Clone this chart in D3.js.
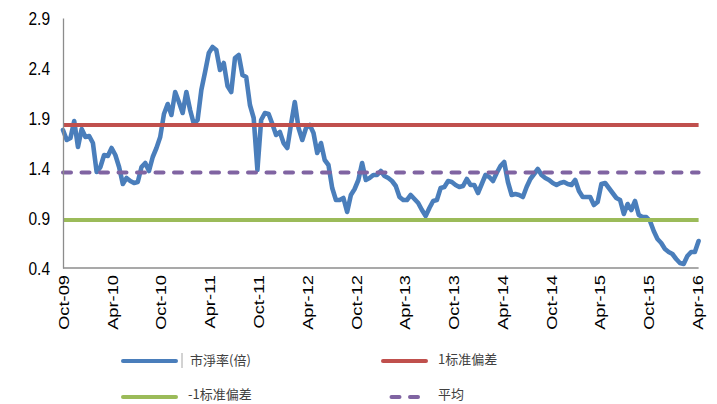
<!DOCTYPE html>
<html>
<head>
<meta charset="utf-8">
<script src="https://cdn.jsdelivr.net/npm/d3@7"></script>
<style>
  body { margin: 0; background: #fff; }
  svg { display: block; }
</style>
</head>
<body>
<svg id="chart" width="717" height="404"></svg>
<script>
// Price-to-book ratio, fortnightly readings starting 2009-10-01
const seriesStart = "2009-10-01";
const stepDays = 14;
const pbValues = [
  1.78, 1.68, 1.70, 1.87, 1.61, 1.79, 1.71, 1.72, 1.65, 1.36,
  1.41, 1.53, 1.52, 1.60, 1.53, 1.41, 1.24, 1.30, 1.27, 1.25,
  1.26, 1.41, 1.45, 1.37, 1.51, 1.60, 1.71, 1.94, 2.04, 1.93,
  2.16, 2.06, 1.95, 2.16, 1.98, 1.84, 1.88, 2.18, 2.36, 2.55,
  2.61, 2.58, 2.38, 2.45, 2.22, 2.16, 2.50, 2.53, 2.33, 2.31,
  2.03, 1.90, 1.38, 1.88, 1.95, 1.94, 1.84, 1.73, 1.76, 1.65,
  1.60, 1.84, 2.06, 1.80, 1.68, 1.80, 1.83, 1.75, 1.55, 1.65,
  1.48, 1.43, 1.20, 1.08, 1.08, 1.10, 0.96, 1.13, 1.19, 1.28,
  1.45, 1.28, 1.30, 1.33, 1.33, 1.37, 1.32, 1.30, 1.27, 1.22,
  1.11, 1.08, 1.08, 1.13, 1.09, 1.05, 0.98, 0.92, 1.00, 1.07,
  1.08, 1.20, 1.21, 1.27, 1.26, 1.23, 1.21, 1.22, 1.29, 1.23,
  1.23, 1.15, 1.24, 1.33, 1.31, 1.27, 1.35, 1.42, 1.46, 1.26,
  1.13, 1.14, 1.13, 1.11, 1.21, 1.29, 1.34, 1.39, 1.33, 1.30,
  1.28, 1.25, 1.23, 1.25, 1.26, 1.24, 1.23, 1.28, 1.17, 1.11,
  1.11, 1.11, 1.03, 1.06, 1.24, 1.25, 1.20, 1.15, 1.10, 1.08,
  0.94, 1.04, 0.98, 1.07, 0.93, 0.91, 0.91, 0.87, 0.77, 0.69,
  0.65, 0.59, 0.56, 0.54, 0.49, 0.45, 0.44, 0.52, 0.56, 0.56,
  0.67
];

// Reference levels
const plusOneSd = 1.83;
const meanLevel = 1.355;
const minusOneSd = 0.88;

const yTickValues = [0.4, 0.9, 1.4, 1.9, 2.4, 2.9];
const xTickLabels = ["Oct-09", "Apr-10", "Oct-10", "Apr-11", "Oct-11", "Apr-12",
  "Oct-12", "Apr-13", "Oct-13", "Apr-14", "Oct-14", "Apr-15", "Oct-15", "Apr-16"];

const seriesNames = ["市淨率(倍)", "1标准偏差", "-1标准偏差", "平均"];
const seriesColors = ["#4a7ebb", "#c0504d", "#9bbb59", "#8064a2"];

const svg = d3.select("#chart");
const parseDay = d3.timeParse("%Y-%m-%d");
const parseTick = d3.timeParse("%b-%y");

const start = parseDay(seriesStart);
const dates = pbValues.map((_, i) => d3.timeDay.offset(start, i * stepDays));
const rows = pbValues.map((v, i) => ({ date: dates[i], value: v }));

const x = d3.scaleTime()
  .domain([parseTick("Oct-09"), parseTick("Apr-16")])
  .range([63, 697]);
const y = d3.scaleLinear().domain([0.4, 2.9]).range([268, 18]);

const textStretch = 1.18;

// Main series
const line = d3.line().x(d => x(d.date)).y(d => y(d.value));
svg.append("path")
  .datum(rows)
  .attr("fill", "none")
  .attr("stroke", seriesColors[0])
  .attr("stroke-width", 4.6)
  .attr("stroke-linejoin", "round")
  .attr("stroke-linecap", "round")
  .attr("d", line);

// Horizontal reference lines across the full date span
const spanStart = dates[0], spanEnd = dates[dates.length - 1];
const refs = [
  { level: plusOneSd, color: seriesColors[1], dash: null },
  { level: minusOneSd, color: seriesColors[2], dash: null },
  { level: meanLevel, color: seriesColors[3], dash: "8,10.5" }
];
refs.forEach(r => {
  svg.append("line")
    .attr("x1", x(spanStart)).attr("x2", x(spanEnd))
    .attr("y1", y(r.level)).attr("y2", y(r.level))
    .attr("stroke", r.color)
    .attr("stroke-width", 4)
    .attr("stroke-linecap", r.dash ? "round" : "butt")
    .attr("stroke-dasharray", r.dash);
});

// Axes
const yAxis = d3.axisLeft(y).tickValues(yTickValues).tickSize(0).tickFormat(d3.format(".1f"));
const gy = svg.append("g").attr("transform", "translate(63,0)").call(yAxis);
gy.select(".domain").attr("stroke", "#8c8c8c").attr("stroke-width", 1.3);
gy.selectAll(".tick text").remove();
gy.selectAll(".tick").each(function(d) {
  d3.select(this).append("text")
    .attr("transform", `translate(-13,0) scale(1,${textStretch})`)
    .attr("text-anchor", "end")
    .attr("dy", "0.35em")
    .attr("fill", "#000")
    .style("font-family", "'Liberation Sans', Arial, sans-serif")
    .style("font-size", "15.5px")
    .text(d3.format(".1f")(d));
});

const xTickDates = xTickLabels.map(s => parseTick(s));
const xAxis = d3.axisBottom(x).tickValues(xTickDates).tickSize(0).tickFormat(d3.timeFormat("%b-%y"));
const gx = svg.append("g").attr("transform", "translate(0,268)").call(xAxis);
gx.select(".domain").attr("stroke", "#8c8c8c").attr("stroke-width", 1.3)
  .attr("d", `M63,0H${x(spanEnd)}`);
gx.selectAll(".tick text").remove();
gx.selectAll(".tick").each(function(d, i) {
  d3.select(this).append("text")
    .attr("transform", `translate(0,7) scale(1,${textStretch}) rotate(-90)`)
    .attr("text-anchor", "end")
    .attr("dy", "0.35em")
    .attr("fill", "#000")
    .style("font-family", "'Liberation Sans', Arial, sans-serif")
    .style("font-size", "15.5px")
    .text(xTickLabels[i]);
});

// Legend
const legendSlots = [
  { x: 123, y: 361, ty: 360, idx: 0, dash: null },
  { x: 383, y: 361, ty: 359, idx: 1, dash: null },
  { x: 123, y: 397, ty: 394, idx: 2, dash: null },
  { x: 383, y: 397, ty: 394, idx: 3, dash: "8,10.5" }
];
const lg = svg.append("g");
legendSlots.forEach(s => {
  const len = s.idx === 3 ? 36 : (s.idx === 1 ? 43 : 53);
  lg.append("line")
    .attr("x1", s.x + (s.dash ? 2 : 0)).attr("x2", s.x + len)
    .attr("y1", s.y).attr("y2", s.y)
    .attr("stroke", seriesColors[s.idx])
    .attr("stroke-width", 4)
    .attr("stroke-linecap", "round")
    .attr("stroke-dasharray", s.dash)
    .attr("stroke-dashoffset", s.dash ? 12 : null);
  const tx = s.idx === 0 ? 190 : (s.idx === 2 ? 188 : 438);
  lg.append("text")
    .attr("x", tx).attr("y", s.ty)
    .attr("dy", "0.35em")
    .attr("fill", "#404040")
    .style("font-family", "'Noto Sans CJK SC', 'Noto Sans', sans-serif")
    .style("font-size", "13px")
    .text(seriesNames[s.idx]);
});
// thin separator beside the first legend entry
lg.append("line")
  .attr("x1", 182).attr("x2", 182).attr("y1", 353).attr("y2", 368)
  .attr("stroke", "#a6a6a6").attr("stroke-width", 1);
</script>
</body>
</html>
